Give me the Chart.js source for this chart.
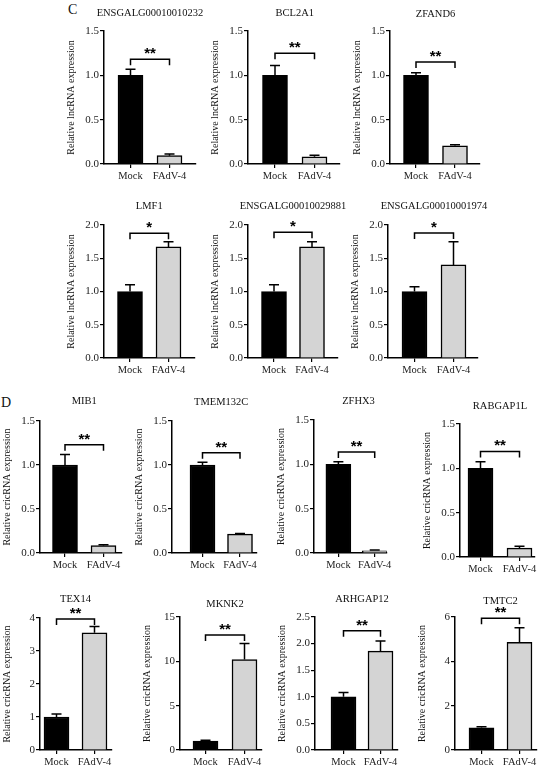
<!DOCTYPE html>
<html>
<head>
<meta charset="utf-8">
<script src="https://cdn.jsdelivr.net/npm/chart.js@4.4.1/dist/chart.umd.min.js"></script>
<style>
  html, body { margin: 0; padding: 0; background: #fff; overflow: hidden; }
  #fig { position: relative; width: 550px; height: 771px; font-family: "Liberation Serif", serif; color: #111; }
  #fig canvas { position: absolute; }
  .ttl { position: absolute; font-size: 10.5px; white-space: nowrap; transform: translate(-50%, -50%); }
  .panel { position: absolute; font-size: 14px; line-height: 14px; }
</style>
</head>
<body>
<div id="fig">
  <div class="panel" style="left:68px; top:3px;">C</div>
  <div class="panel" style="left:1px; top:396px;">D</div>
</div>
<script>
// data
const groups = ['Mock', 'FAdV-4'];
const genes = ['ENSGALG00010010232', 'BCL2A1', 'ZFAND6',
  'LMF1', 'ENSGALG00010029881', 'ENSGALG00010001974',
  'MIB1', 'TMEM132C', 'ZFHX3', 'RABGAP1L',
  'TEX14', 'MKNK2', 'ARHGAP12', 'TMTC2'];
const mockMean = [1, 1, 1, 1, 1, 1, 1, 1, 1, 1, 1, 1, 1, 1];
const mockErr = [0.07, 0.11, 0.03, 0.10, 0.10, 0.07, 0.12, 0.03, 0.03, 0.075, 0.09, 0.10, 0.08, 0.05];
const fadvMean = [0.094, 0.082, 0.206, 1.67, 1.67, 1.40, 0.083, 0.215, 0.025, 0.10, 3.55, 10.2, 1.86, 4.86];
const fadvErr = [0.02, 0.018, 0.012, 0.08, 0.08, 0.35, 0.012, 0.008, 0.01, 0.02, 0.19, 1.8, 0.19, 0.66];
const sigMarks = ['**', '**', '**', '*', '*', '*', '**', '**', '**', '**', '**', '**', '**', '**'];
const bracketY = [1.18, 1.25, 1.15, 1.875, 1.89, 1.88, 1.23, 1.14, 1.14, 1.19, 3.97, 12.97, 2.24, 5.94];
const tLnc15 = ['0.0', '0.5', '1.0', '1.5'];
const tLnc20 = ['0.0', '0.5', '1.0', '1.5', '2.0'];
const yTickLabels = [tLnc15, tLnc15, tLnc15, tLnc20, tLnc20, tLnc20,
  tLnc15, tLnc15, tLnc15, tLnc15,
  ['0', '1', '2', '3', '4'], ['0', '5', '10', '15'],
  ['0.0', '0.5', '1.0', '1.5', '2.0', '2.5'], ['0', '2', '4', '6']];
const yTitles = genes.map((g, i) => i < 6 ? 'Relative lncRNA expression' : 'Relative cricRNA expression');

// layout: [axis x, top tick y, zero y, axis end x, mock centre, fadv centre, title y]
const layout = [
  [104, 31, 164, 196, 130.5, 169.5, 12],
  [248, 31, 164, 340, 275, 314.5, 12],
  [390, 31, 164, 480, 416, 455, 13],
  [104, 225, 358, 195, 130, 168.5, 205],
  [248, 225, 358, 338, 274, 312, 205],
  [388, 225, 358, 478, 414.5, 453.5, 205],
  [40, 421, 553, 122, 65, 103.5, 400],
  [172, 421, 553, 257, 202.5, 240, 401],
  [314, 420, 553, 390, 339.5, 377.5, 400],
  [460, 424, 557, 535, 480.5, 519.5, 405],
  [40, 618, 750, 112, 56.5, 94.5, 598],
  [180, 617, 750, 262, 205.5, 244.5, 603],
  [315, 617, 750, 398, 343.5, 380.5, 598],
  [455, 617, 750, 537, 481.5, 519.5, 600]
];

const Y_W = 44, X_H = 24, PAD_T = 30, PAD_R = 4;
Chart.defaults.font.family = '"Liberation Serif", serif';
Chart.defaults.color = '#222';

// error bars (upper only) and significance brackets
const marks = {
  id: 'marks',
  afterDatasetsDraw(chart, args, opts) {
    const i = opts.idx;
    const ctx = chart.ctx;
    const y = chart.scales.y;
    const bars = chart.getDatasetMeta(0).data;
    const means = [mockMean[i], fadvMean[i]];
    const errs = [mockErr[i], fadvErr[i]];
    ctx.save();
    ctx.strokeStyle = '#000';
    ctx.lineWidth = 1.5;
    bars.forEach((b, k) => {
      const yTop = y.getPixelForValue(means[k] + errs[k]);
      ctx.beginPath();
      ctx.moveTo(b.x, b.y);
      ctx.lineTo(b.x, yTop);
      ctx.moveTo(b.x - 5, yTop);
      ctx.lineTo(b.x + 5, yTop);
      ctx.stroke();
    });
    const by = y.getPixelForValue(bracketY[i]);
    ctx.beginPath();
    ctx.moveTo(bars[0].x, by + 6);
    ctx.lineTo(bars[0].x, by);
    ctx.lineTo(bars[1].x, by);
    ctx.lineTo(bars[1].x, by + 6);
    ctx.stroke();
    ctx.fillStyle = '#000';
    ctx.font = 'bold 15px "Liberation Sans"';
    ctx.textAlign = 'center';
    ctx.textBaseline = 'alphabetic';
    ctx.fillText(sigMarks[i], (bars[0].x + bars[1].x) / 2, by - 1);
    ctx.restore();
  }
};

const fig = document.getElementById('fig');

genes.forEach((gene, i) => {
  const [ax, top, bot, end, mc, fc, ty] = layout[i];
  const w = Y_W + (end - ax) + PAD_R;
  const h = PAD_T + (bot - top) + X_H;
  const cv = document.createElement('canvas');
  cv.width = w;
  cv.height = h;
  cv.style.left = (ax - Y_W) + 'px';
  cv.style.top = (top - PAD_T) + 'px';
  cv.style.width = w + 'px';
  cv.style.height = h + 'px';
  fig.appendChild(cv);

  const title = document.createElement('div');
  title.className = 'ttl';
  title.textContent = gene;
  title.style.left = ((mc + fc) / 2) + 'px';
  title.style.top = ty + 'px';
  fig.appendChild(title);

  const span = fc - mc;
  const tickVals = yTickLabels[i].map(Number);

  new Chart(cv, {
    type: 'bar',
    data: {
      datasets: [{
        data: [{ x: 0, y: mockMean[i] }, { x: 1, y: fadvMean[i] }],
        backgroundColor: ['#000', '#d4d4d4'],
        borderColor: '#000',
        borderWidth: 1.5,
        barThickness: 25
      }]
    },
    options: {
      responsive: false,
      animation: false,
      layout: { padding: { top: PAD_T, right: PAD_R, left: 0, bottom: 0 } },
      plugins: {
        legend: { display: false },
        tooltip: { enabled: false },
        marks: { idx: i }
      },
      scales: {
        x: {
          type: 'linear',
          min: -(mc - ax) / span,
          max: 1 + (end - fc) / span,
          offset: false,
          afterBuildTicks: s => { s.ticks = [{ value: 0 }, { value: 1 }]; },
          afterFit: s => { s.height = X_H; },
          grid: { drawOnChartArea: false, tickLength: 4, color: '#000', lineWidth: 1.2, offset: false },
          border: { color: '#000', width: 1.5 },
          ticks: {
            callback: (v, idx) => groups[idx],
            font: { size: 10.5 },
            padding: 2,
            maxRotation: 0,
            autoSkip: false
          }
        },
        y: {
          min: 0,
          max: tickVals[tickVals.length - 1],
          afterBuildTicks: s => { s.ticks = tickVals.map(v => ({ value: v })); },
          afterFit: s => { s.width = Y_W; },
          grid: { drawOnChartArea: false, tickLength: 4, color: '#000', lineWidth: 1.2 },
          border: { color: '#000', width: 1.5 },
          ticks: {
            callback: (v, idx) => yTickLabels[i][idx],
            font: { size: 11 },
            padding: 1,
            autoSkip: false
          },
          title: {
            display: true,
            text: yTitles[i],
            font: { size: 10 },
            color: '#111',
            padding: { top: 5, bottom: 0 }
          }
        }
      }
    },
    plugins: [marks]
  });
});
</script>
</body>
</html>
